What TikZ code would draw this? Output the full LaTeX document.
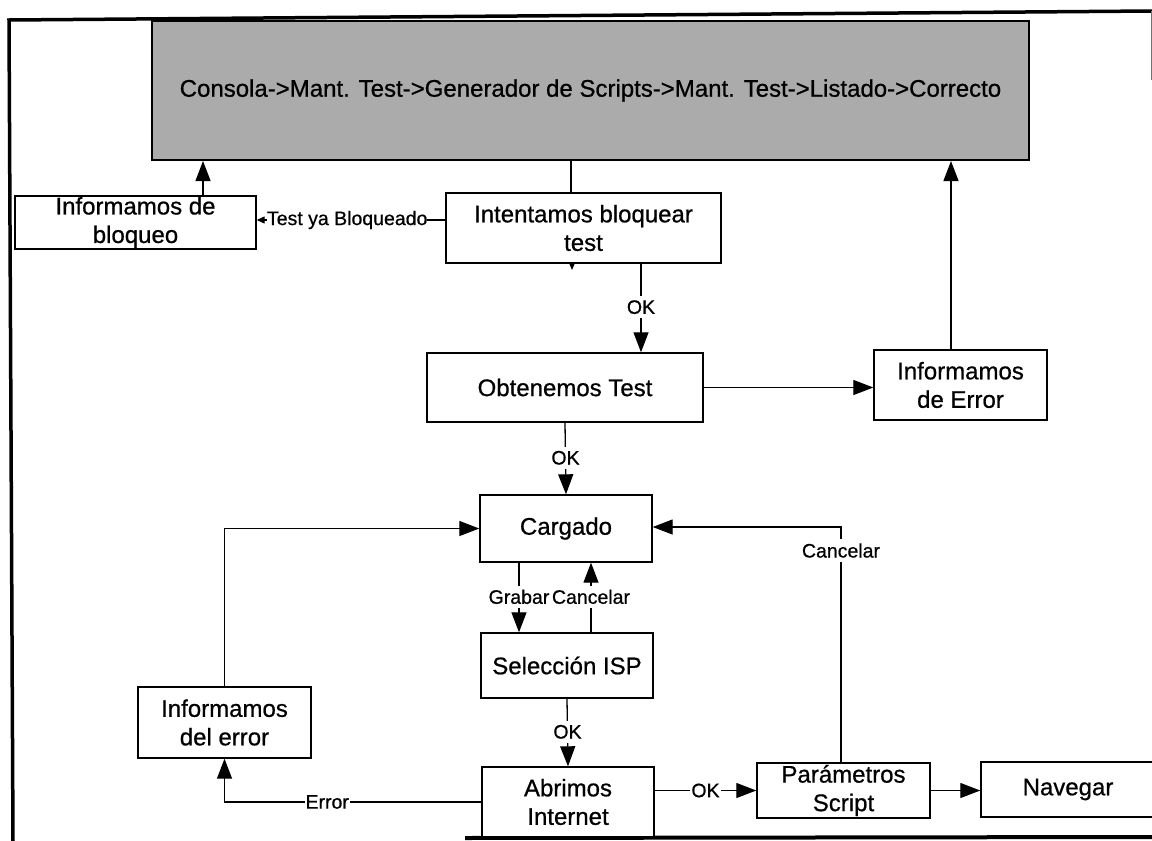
\documentclass[tikz,border=0pt]{standalone}
\usepackage{fontspec}
\setmainfont{Liberation Sans}[FakeBold=0.7]
\usetikzlibrary{arrows.meta,calc}
\begin{document}
\begin{tikzpicture}[x=1pt,y=-1pt,
  box/.style={draw, line width=1.4pt, fill=white, inner sep=0pt, align=center,
              font=\fontsize{24}{28.5}\selectfont},
  lab/.style={fill=white, inner xsep=1pt, inner ysep=4pt,
              font=\fontsize{19.5}{22}\selectfont},
  conn/.style={line width=1.3pt},
  arr/.style={conn, -{Triangle[length=20pt,width=15pt]}},
  smallarr/.style={conn, -{Triangle[length=8pt,width=7pt]}},
]
\useasboundingbox (0,0) rectangle (1152,841);
\fill[white] (0,0) rectangle (1152,841);

% outer frame of the page
\coordinate (f1) at (9,20);
\coordinate (f2) at (1152,11);
\coordinate (f3) at (13,841);
\draw[line width=3.5pt] (f3) -- (f1) -- (f2);
\draw[line width=0.8pt, black!55] (1151,11) -- (1151,80);
\draw[line width=4pt] (465,838) -- (1152,837);

% title bar
\node[box, line width=2pt, fill=black!33, minimum width=877pt, minimum height=139pt] (top) at (590.5,90.5)
  {Consola->Mant. Test->Generador de Scripts->Mant. Test->Listado->Correcto};

% process boxes
\node[box, minimum width=241pt, minimum height=53pt] (blo) at (135.5,222.5) {Informamos de\\bloqueo};
\node[box, minimum width=275pt, minimum height=70pt] (int) at (583.5,228) {Intentamos bloquear\\test};
\node[box, minimum width=276pt, minimum height=69pt] (obt) at (565,387.5) {Obtenemos Test};
\node[box, minimum width=173pt, minimum height=70pt] (ierr) at (960.5,385) {Informamos\\de Error};
\node[box, minimum width=172pt, minimum height=67pt] (carg) at (566,528.5) {Cargado};
\node[box, minimum width=172pt, minimum height=65pt] (sel) at (567,665.5) {Selección ISP};
\node[box, minimum width=172pt, minimum height=70pt] (abr) at (568,802) {Abrimos\\Internet};
\node[box, minimum width=173pt, minimum height=55pt] (param) at (843.5,790.5) {Parámetros\\Script};
\node[box, minimum width=174pt, minimum height=55pt] (nav) at (1068,789.5) {Navegar};
\node[box, minimum width=173pt, minimum height=71pt] (erro) at (224.5,722.5) {Informamos\\del error};

% helper coordinates for connector columns and rows
\coordinate (xa) at (571,0);
\coordinate (xb) at (203,0);
\coordinate (xc) at (951,0);
\coordinate (xd) at (641,0);
\coordinate (xg) at (519,0);
\coordinate (xk) at (591,0);
\coordinate (ya) at (0,220);
\coordinate (xp) at (841,527);

% connectors
\draw[conn] (int.north -| xa) -- (top.south -| xa);
\draw[arr] (blo.north -| xb) -- (top.south -| xb);
\draw[smallarr] (int.west |- ya) -- node[lab, inner xsep=0pt, pos=0.52] (tyb) {Test ya Bloqueado} (blo.east |- ya);
\fill (569,263) -- (575,263) -- (572,270) -- cycle;
\draw[arr] (int.south -| xd) -- node[lab, pos=0.49] (ok1) {OK} (obt.north -| xd);
\draw[arr] (obt.east) -- (ierr.west |- obt.east);
\draw[arr] (ierr.north -| xc) -- (top.south -| xc);
\draw[arr] (obt.south) -- node[lab, pos=0.49] (ok2) {OK} (carg.north);
\draw[arr] (erro.north) |- (carg.west);
\draw[arr] (carg.south -| xg) -- node[lab, pos=0.49] (grab) {Grabar} (sel.north -| xg);
\draw[arr] (sel.north -| xk) -- node[lab, pos=0.51] (canc1) {Cancelar} (carg.south -| xk);
\draw[arr] (sel.south) -- node[lab, pos=0.49] (ok3) {OK} (abr.north);
\draw[arr] (abr.west) -| node[lab, pos=0.3] (errl) {Error} (erro.south);
\draw[arr] (abr.east |- param.west) -- node[lab, pos=0.5] (ok4) {OK} (param.west);
\draw[arr] (param.north -| xp) -- node[lab, pos=0.9] (canc2) {Cancelar} (xp) -- (carg.east |- xp);
\draw[arr] (param.east) -- (nav.west |- param.east);
\end{tikzpicture}
\end{document}
